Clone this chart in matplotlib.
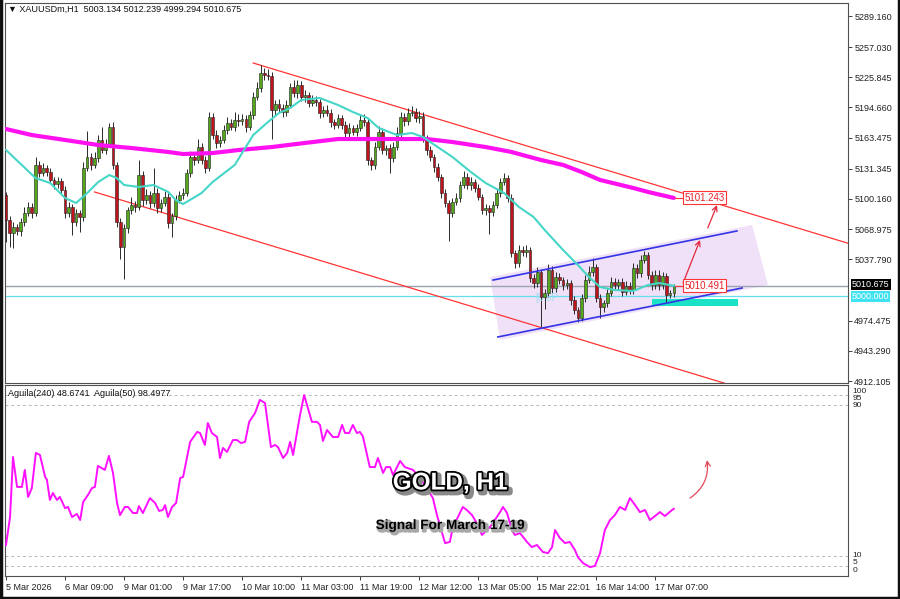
import matplotlib
matplotlib.use("Agg")
import matplotlib.pyplot as plt
import matplotlib.patheffects as pe
from matplotlib.patches import Polygon, Rectangle
from matplotlib.lines import Line2D

W, H = 900, 599
plt.rcParams['font.family'] = ['Liberation Sans', 'DejaVu Sans']

# ---------- data (H1 bars, index 0 = 5 Mar 2026) ----------
first_open = 5104.3
closes = [
    5078.4, 5065.0, 5071.2, 5067.1, 5076.4, 5085.7, 5091.9, 5085.7, 5135.3, 5127.0,
    5132.2, 5128.0, 5119.8, 5115.6, 5118.7, 5109.4, 5085.7, 5091.9, 5076.4, 5085.7,
    5081.5, 5132.2, 5143.5, 5135.3, 5142.5, 5161.1, 5150.7, 5156.9, 5174.5, 5135.3,
    5076.4, 5050.5, 5070.2, 5088.8, 5093.9, 5091.9, 5124.9, 5099.1, 5104.3, 5096.0,
    5106.3, 5090.8, 5096.0, 5102.2, 5075.3, 5082.6, 5099.1, 5104.3, 5106.3, 5127.0,
    5143.5, 5140.4, 5153.8, 5140.4, 5132.2, 5184.8, 5166.2, 5158.0, 5161.1, 5171.4,
    5178.6, 5174.5, 5181.7, 5180.7, 5182.8, 5174.5, 5186.9, 5205.5, 5214.8, 5230.3,
    5228.2, 5227.2, 5192.1, 5198.3, 5194.1, 5190.0, 5197.2, 5215.8, 5209.6, 5217.9,
    5205.5, 5207.6, 5199.3, 5202.4, 5200.3, 5189.0, 5192.1, 5189.0, 5179.7, 5176.6,
    5183.8, 5176.6, 5168.3, 5173.5, 5169.3, 5173.5, 5181.7, 5179.7, 5140.4, 5135.3,
    5153.8, 5169.3, 5150.7, 5152.8, 5142.5, 5153.8, 5168.3, 5184.8, 5180.7, 5189.0,
    5190.0, 5183.8, 5185.9, 5163.1, 5150.7, 5143.5, 5133.2, 5122.9, 5106.3, 5096.0,
    5085.7, 5097.0, 5101.2, 5114.6, 5122.9, 5114.6, 5117.7, 5111.5, 5102.2, 5088.8,
    5090.8, 5086.7, 5093.9, 5106.3, 5117.7, 5121.8, 5101.2, 5044.3, 5034.0, 5047.4,
    5045.4, 5047.4, 5018.5, 5013.3, 5024.7, 4998.9, 5003.0, 5026.8, 5008.2, 5019.5,
    5016.4, 5011.3, 5013.3, 4995.8, 4985.5, 4977.2, 4997.9, 5016.4, 5024.7, 5029.9,
    4997.9, 4988.6, 4992.7, 5003.0, 5014.4, 5011.3, 5014.4, 5004.1, 5010.3, 5006.1,
    5028.8, 5023.7, 5037.1, 5042.3, 5021.6, 5011.3, 5021.6, 5011.3, 5020.6, 5000.9,
    5003.134, 5010.675,
]
wick_up = [
    3, 4, 5, 3, 4, 6, 5, 4, 8, 4,
    5, 3, 4, 3, 4, 3, 4, 5, 3, 4,
    3, 6, 27, 4, 6, 5, 13, 5, 4, 5,
    3, 4, 4, 3, 8, 4, 15, 4, 6, 4,
    26, 5, 4, 6, 4, 3, 5, 4, 5, 4,
    6, 5, 8, 4, 4, 5, 4, 5, 4, 5,
    6, 4, 8, 6, 5, 4, 4, 5, 6, 8,
    5, 6, 4, 4, 5, 4, 5, 4, 7, 5,
    4, 5, 3, 5, 4, 3, 4, 5, 4, 3,
    4, 3, 4, 5, 3, 4, 5, 6, 4, 3,
    5, 6, 4, 3, 4, 5, 6, 5, 4, 5,
    6, 4, 5, 4, 3, 4, 3, 4, 3, 4,
    3, 4, 5, 4, 6, 4, 5, 3, 4, 3,
    4, 3, 4, 5, 4, 5, 3, 4, 3, 5,
    4, 5, 3, 4, 5, 3, 4, 6, 4, 5,
    4, 3, 4, 3, 4, 3, 4, 5, 6, 9,
    3, 4, 3, 4, 5, 4, 3, 4, 5, 4,
    5, 4, 5, 4, 3, 4, 5, 5, 4, 3,
    3, 1.564,
]
wick_dn = [
    23, 14, 16, 4, 5, 4, 3, 5, 3, 4,
    3, 4, 3, 5, 4, 3, 5, 4, 13, 4,
    15, 4, 3, 5, 3, 4, 3, 4, 3, 4,
    5, 12, 33, 5, 4, 5, 3, 6, 4, 5,
    4, 5, 4, 3, 5, 14, 4, 3, 4, 3,
    4, 5, 3, 4, 5, 3, 4, 5, 4, 3,
    4, 3, 4, 5, 4, 5, 3, 4, 3, 4,
    5, 4, 30, 5, 4, 5, 4, 3, 4, 5,
    4, 5, 4, 3, 4, 5, 4, 3, 5, 4,
    3, 4, 5, 4, 3, 4, 3, 4, 5, 5,
    4, 3, 4, 5, 16, 4, 3, 4, 5, 4,
    3, 4, 5, 4, 5, 4, 5, 4, 5, 4,
    29, 4, 3, 4, 3, 4, 5, 4, 3, 4,
    5, 23, 4, 3, 4, 3, 4, 4, 5, 4,
    4, 5, 4, 5, 4, 31, 12, 4, 5, 4,
    4, 5, 4, 5, 4, 4, 3, 4, 3, 4,
    4, 11, 5, 4, 3, 4, 5, 4, 3, 4,
    4, 5, 4, 3, 4, 5, 4, 5, 4, 7,
    3, 3.84,
]

# moving averages (fast = cyan, slow = thick magenta)
ma_fast_bars = [0, 8, 12, 16, 19, 22, 25, 28, 30, 32, 36, 40, 44, 46, 48, 53, 56, 62, 67,
                71, 74, 77, 80, 85, 90, 94, 98, 101, 106, 110, 113, 117, 121, 126, 130,
                135, 139, 143, 146, 151, 155, 158, 161, 165, 170, 174, 177, 181]
ma_fast_vals = [5150.7, 5121.8, 5116.6, 5101.2, 5096.0, 5106.3, 5117.7, 5124.9, 5121.8,
                5114.6, 5112.5, 5114.6, 5107.4, 5099.1, 5094.9, 5106.3, 5117.7, 5135.3,
                5166.2, 5179.7, 5189.0, 5194.1, 5202.4, 5204.5, 5197.2, 5190.0, 5183.8,
                5173.5, 5166.2, 5168.3, 5164.2, 5153.8, 5143.5, 5128.0, 5116.6, 5106.3,
                5091.9, 5081.5, 5068.1, 5047.4, 5031.9, 5019.5, 5009.2, 5006.1, 5005.1,
                5011.3, 5013.3, 5010.491]
ma_slow_bars = [0, 7, 16, 25, 34, 44, 48, 56, 63, 72, 81, 90, 99, 108, 114, 121, 130, 137,
                145, 151, 156, 161, 170, 174, 181]
ma_slow_vals = [5172.4, 5166.2, 5161.1, 5155.9, 5152.8, 5148.7, 5146.6, 5147.6, 5150.7,
                5153.8, 5158.0, 5162.1, 5162.1, 5162.1, 5162.1, 5159.0, 5153.8, 5148.7,
                5140.4, 5135.3, 5128.0, 5119.8, 5111.5, 5107.4, 5101.243]

# Aguila oscillator
agu_bars = [0, 1.1, 1.9, 3.0, 4.3, 5.1, 6.0, 7.0, 8.1, 9.2, 10.6, 11.1, 11.9, 12.7, 13.8,
            14.6, 16.0, 16.8, 17.9, 19.2, 20.1, 20.9, 22.2, 23.3, 24.1, 24.9, 26.8, 27.9,
            29.0, 30.1, 30.9, 32.2, 33.1, 34.4, 35.5, 36.0, 37.1, 39.0, 40.4, 41.5, 42.5,
            43.1, 43.9, 45.0, 46.1, 47.2, 48.0, 49.9, 51.8, 52.6, 53.9, 54.7, 55.8, 57.2,
            58.0, 58.8, 59.9, 61.5, 62.6, 63.7, 64.8, 65.9, 67.5, 68.8, 70.2, 71.8, 72.9,
            73.7, 75.1, 76.2, 77.0, 77.8, 79.7, 80.8, 82.9, 84.3, 85.1, 85.9, 87.0, 88.6,
            90.0, 91.1, 91.9, 93.0, 94.0, 95.1, 95.9, 96.7, 98.6, 100.0, 100.8, 102.2,
            103.0, 104.1, 104.9, 106.8, 108.1, 110.3, 112.2, 114.4, 115.7, 116.8, 118.2,
            119.0, 120.3, 121.1, 122.5, 123.8, 124.9, 126.3, 127.6, 129.0, 129.8, 131.2,
            132.5, 133.9, 134.7, 135.8, 137.1, 137.9, 139.3, 141.2, 142.5, 143.9, 145.5,
            146.9, 148.0, 148.8, 150.1, 151.5, 152.8, 154.2, 155.0, 156.4, 158.3, 159.6,
            161.0, 162.3, 163.7, 165.0, 166.4, 167.8, 169.1, 170.5, 171.8, 173.2, 174.5,
            175.9, 177.2, 178.6, 180.5, 181.0]
agu_vals = [15.9, 30.7, 62.4, 46.6, 46.6, 55.6, 41.3, 46.0, 64.6, 63.5, 51.9, 50.3, 39.7,
            43.4, 39.7, 41.3, 35.4, 36.0, 30.7, 32.3, 29.1, 38.6, 42.3, 46.0, 46.6, 57.7,
            55.6, 63.0, 54.0, 38.1, 31.7, 36.0, 36.0, 32.8, 32.8, 36.5, 32.8, 40.7, 38.1,
            33.9, 34.4, 37.0, 30.7, 36.0, 38.1, 51.3, 51.9, 70.4, 75.7, 75.1, 68.8, 80.4,
            75.1, 73.0, 61.9, 67.2, 65.1, 71.4, 71.4, 69.8, 70.4, 81.0, 85.7, 92.6, 91.0,
            67.7, 68.8, 67.7, 61.9, 64.6, 70.4, 63.5, 84.7, 95.2, 81.0, 81.0, 79.4, 70.9,
            76.7, 73.0, 73.0, 79.4, 75.1, 75.1, 79.4, 75.1, 75.7, 73.5, 57.1, 57.1, 61.9,
            54.0, 57.1, 57.1, 52.9, 60.3, 57.1, 55.6, 51.3, 45.0, 40.7, 31.7, 22.2, 16.9,
            17.5, 25.4, 30.7, 36.0, 34.4, 31.7, 27.5, 21.2, 22.8, 25.4, 29.1, 33.3, 36.0,
            32.8, 23.8, 21.2, 22.2, 17.5, 14.8, 15.9, 12.2, 11.6, 14.8, 23.8, 19.6, 16.9,
            17.5, 13.2, 9.5, 6.3, 4.2, 4.8, 11.6, 23.8, 29.1, 31.7, 36.0, 34.4, 40.7, 37.0,
            33.3, 34.4, 29.1, 31.2, 33.3, 31.2, 34.4, 35.0]
agu_levels = [5, 10, 90, 95]
agu_scale_labels = ['100', '95', '90', '10', '5', '0']
agu_scale_pos = [97.3, 93.6, 89.6, 10.2, 6.4, 2.5]

# drawn objects (bar index, price)
red_upper = ([67, 229], [5240.6, 5053.5])
red_lower = ([24, 230], [5107.4, 4869.0])
blue_upper = ([132, 198.1], [5016.4, 5067.1])
blue_lower = ([133.3, 199.5], [4957.6, 5008.2])
zone_poly = [(131.2, 5019.5), (202.2, 5073.3), (206.5, 5011.3), (133.9, 4954.5)]
support_box = (175.1, 4989.6, 23.3, 7.2)
arrow1 = ((183.5, 5013.3), (188.1, 5057.8))
arrow2 = ((190.2, 5070.2), (192.7, 5093.9))
arrow_osc = ((185.4, 40.7), (190.0, 60.8))
label_x = 189.3

price_ticks = [5289.160, 5257.030, 5225.845, 5194.660, 5163.475, 5131.345, 5100.160,
               5068.975, 5037.790, 4974.475, 4943.290, 4912.105]
time_tick_bars = [0, 16, 32, 48, 64, 80, 96, 112, 128, 144, 160, 176]
time_tick_labels = ["5 Mar 2026", "6 Mar 09:00", "9 Mar 01:00", "9 Mar 17:00",
                    "10 Mar 10:00", "11 Mar 03:00", "11 Mar 19:00", "12 Mar 12:00",
                    "13 Mar 05:00", "15 Mar 22:01", "16 Mar 14:00", "17 Mar 07:00"]
last_price = 5010.675
level_price = 5000.0

# ---------- figure ----------
fig = plt.figure(figsize=(W / 100, H / 100), dpi=100)
ax = fig.add_axes([5 / W, 1 - 383 / H, 843 / W, 380 / H])
ax2 = fig.add_axes([5 / W, 1 - 576 / H, 843 / W, 191 / H])

XL = (-0.27, 228.2)
for a in (ax, ax2):
    a.set_xlim(*XL)
    for s in a.spines.values():
        s.set_color('#505050')
        s.set_linewidth(0.8)
    a.yaxis.tick_right()
    a.tick_params(axis='y', length=3, width=0.6, pad=1.5, labelsize=6.5, colors='#222')
ax.set_ylim(4910.05, 5302.6)
ax2.set_ylim(-0.5, 100.5)

# candles
opens = [first_open] + closes[:-1]
for i, (o, c) in enumerate(zip(opens, closes)):
    top, bot = max(o, c), min(o, c)
    ax.vlines(i, bot - wick_dn[i], top + wick_up[i], color='#2a2a2a', lw=0.7, zorder=3)
    col = '#55a81c' if c >= o else '#c0141c'
    ax.bar(i, max(top - bot, 0.6), bottom=bot, width=0.72, color=col,
           edgecolor='#1e1e1e', linewidth=0.4, zorder=4)

# shaded channel zone and support box
ax.add_patch(Polygon(zone_poly, closed=True, fc='#f0e1f8', ec='none', zorder=1))
ax.add_patch(Rectangle(support_box[:2], support_box[2], support_box[3],
                       fc='#19e3c4', ec='none', zorder=2))

# horizontal levels
ax.axhline(last_price, color='#9ba1b0', lw=1.0, zorder=2)
ax.axhline(level_price, color='#63dff0', lw=0.9, zorder=2)

# trend lines
ax.plot(*red_upper, color='#ff3434', lw=0.9, zorder=2)
ax.plot(*red_lower, color='#ff3434', lw=0.9, zorder=2)
ax.plot(*blue_upper, color='#3434e6', lw=1.2, zorder=5)
ax.plot(*blue_lower, color='#3434e6', lw=1.2, zorder=5)

# moving averages
ax.plot(ma_slow_bars, ma_slow_vals, color='#ff10f0', lw=3.0, zorder=5,
        solid_capstyle='round')
ax.plot(ma_fast_bars, ma_fast_vals, color='#45d6c8', lw=1.5, zorder=5)

# value labels
for val in (ma_fast_vals[-1], ma_slow_vals[-1]):
    ax.plot([ma_fast_bars[-1] + 0.3, label_x - 5], [val, val], color='#ff3434', lw=0.8, zorder=5)
    ax.text(label_x, val, f"{val:.3f}", color='#e8202a', fontsize=7, ha='center',
            va='center', zorder=7,
            bbox=dict(fc='white', ec='#ff3434', lw=0.8, boxstyle='square,pad=0.15'))

ax.text(146.5, 4997.5, "[6.6P", color='#9fdcf2', fontsize=7, ha='center', va='center',
        zorder=3)

for (p0, p1) in (arrow1, arrow2):
    ax.annotate('', xy=p1, xytext=p0, zorder=6,
                arrowprops=dict(arrowstyle='->', color='#e3283c', lw=0.9,
                                mutation_scale=9, shrinkA=0, shrinkB=0))
ax2.annotate('', xy=arrow_osc[1], xytext=arrow_osc[0], zorder=6,
             arrowprops=dict(arrowstyle='->', color='#e3485a', lw=0.9, mutation_scale=9,
                             connectionstyle='arc3,rad=0.3', shrinkA=0, shrinkB=0))

# price axis
ax.set_yticks(price_ticks)
ax.set_yticklabels([f"{p:.3f}" for p in price_ticks])
ax.set_xticks([])
ytr = ax.get_yaxis_transform()
ax.text(1.0045, last_price + 1.5, f"{last_price:.3f}", transform=ytr, color='white',
        fontsize=6.5, ha='left', va='center',
        bbox=dict(fc='black', ec='none', boxstyle='square,pad=0.12'))
ax.text(1.0045, level_price - 0.5, f"{level_price:.3f}", transform=ytr, color='white',
        fontsize=6.5, ha='left', va='center',
        bbox=dict(fc='#40e2f2', ec='none', boxstyle='square,pad=0.12'))

# oscillator panel
for lv in agu_levels:
    ax2.axhline(lv, color='#b8b8b8', lw=0.7, ls=(0, (3, 3)), zorder=1)
ax2.plot(agu_bars, agu_vals, color='#ff10ff', lw=1.4, zorder=3)
ax2.set_yticks([])
ytr2 = ax2.get_yaxis_transform()
for lab, pos in zip(agu_scale_labels, agu_scale_pos):
    ax2.text(1.005, pos, lab, transform=ytr2, fontsize=6, ha='left', va='center',
             color='#222')
ax2.set_xticks(time_tick_bars)
ax2.set_xticklabels(time_tick_labels, ha='left')
ax2.tick_params(axis='x', length=3, width=0.6, pad=2, labelsize=6.5, colors='#222')

# header texts
fig.text(8 / W, 1 - 9 / H, "\u25BC XAUUSDm,H1  5003.134 5012.239 4999.294 5010.675",
         fontsize=6.5, ha='left', va='center', color='#111')
fig.text(8 / W, 1 - 393 / H, "Aguila(240) 48.6741  Aguila(50) 98.4977",
         fontsize=6.5, ha='left', va='center', color='#111')

fig.text(450 / W, 1 - 483 / H, "GOLD, H1", fontsize=17.5, fontweight='bold',
         color='white', ha='center', va='center', zorder=10,
         path_effects=[pe.Stroke(linewidth=4.5, foreground='#8a8a8a', offset=(2, -2)),
                       pe.Stroke(linewidth=2.6, foreground='black'), pe.Normal()])
fig.text(450 / W, 1 - 525 / H, "Signal For March 17-19", fontsize=9.8, fontweight='bold',
         color='black', ha='center', va='center', zorder=10,
         path_effects=[pe.Stroke(linewidth=2.2, foreground='#a8a8a8', offset=(1.5, -1.5)),
                       pe.Normal()])

# outer frame (left, right, bottom)
for xy in (([0.001, 0.001], [0, 1]), ([0.999, 0.999], [0, 1]), ([0, 1], [0.002, 0.002])):
    fig.add_artist(Line2D(*xy, transform=fig.transFigure, color='#111', lw=2.5))

fig.savefig("out.png", dpi=100)
